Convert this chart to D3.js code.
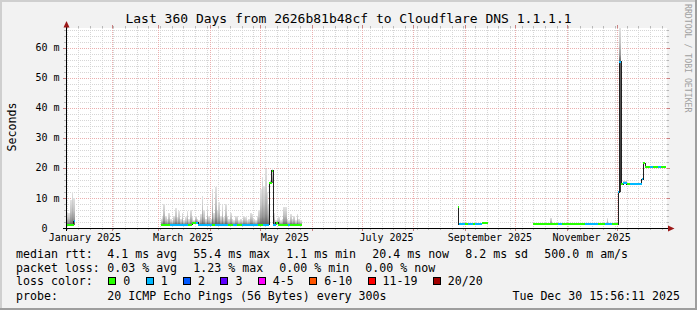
<!DOCTYPE html>
<html><head><meta charset="utf-8">
<script src="https://cdn.jsdelivr.net/npm/d3@7"></script>
<style>
html,body{margin:0;padding:0;background:#f2f2f2;}
svg{display:block;}
text{font-family:"DejaVu Sans Mono",monospace;fill:#000;}
</style></head><body>
<svg id="chart" width="697" height="310"></svg>
<script>
// ---------- texts ----------
const titleText = "Last 360 Days from 2626b81b48cf to Cloudflare DNS 1.1.1.1";
const yAxisTitle = "Seconds";
const watermark = "RRDTOOL / TOBI OETIKER";
const startTime = "2025-01-04T15:56:11Z";
const endTime = "2025-12-30T15:56:11Z";
const yAxisMax = 66.55; // ms, autoscaled top of axis

const yTickValues = [0, 10, 20, 30, 40, 50, 60];
const yTickLabels = ["0  ", "10 m", "20 m", "30 m", "40 m", "50 m", "60 m"];
const xLabelMonths = ["2025-01-01", "2025-03-01", "2025-05-01", "2025-07-01", "2025-09-01", "2025-11-01"];
const xLabelTexts = ["January 2025", "March 2025", "May 2025", "July 2025", "September 2025", "November 2025"];

const lossLabels = ["0", "1", "2", "3", "4-5", "6-10", "11-19", "20/20"];
const lossColors = ["#26ff00", "#00b8ff", "#0059ff", "#5e00ff", "#ff00ff", "#ff5500", "#ff0000", "#a10000"];

const medianLegendTitle = "median rtt:";
const medianLegend = ["4.1 ms avg", "55.4 ms max", "1.1 ms min", "20.4 ms now", "8.2 ms sd", "500.0 m am/s"];
const lossLegendTitle = "packet loss:";
const lossLegend = ["0.03 % avg", "1.23 % max", "0.00 % min", "0.00 % now"];
const colorLegendTitle = "loss color:";
const probeTitle = "probe:";
const probeText = "20 ICMP Echo Pings (56 Bytes) every 300s";
const stampText = "Tue Dec 30 15:56:11 2025";

// ---------- median rtt (ms) steps: each value holds until the next date; null = no data ----------
const medianDates = [
  "2025-01-04T16", "2025-01-09T04", "2025-01-10T01",
  "2025-03-02T16", "2025-03-08T00", "2025-03-19T00", "2025-03-21T10", "2025-03-23T12", "2025-03-25T00",
  "2025-04-02T00", "2025-04-04T00", "2025-04-12T00", "2025-04-15T00", "2025-04-17T00", "2025-04-20T00",
  "2025-04-30T00", "2025-05-03T00", "2025-05-06T14", "2025-05-08T02", "2025-05-09T00", "2025-05-10T12",
  "2025-05-12T00", "2025-05-18T00", "2025-05-19T00", "2025-05-26T02",
  "2025-08-27T16", "2025-08-28T05", "2025-09-01T00", "2025-09-03T00", "2025-09-06T00", "2025-09-07T00",
  "2025-09-11T02", "2025-09-15T00",
  "2025-10-12T00", "2025-10-27T00", "2025-10-29T00", "2025-11-12T00", "2025-11-20T00", "2025-11-24T00",
  "2025-11-28T00", "2025-12-02T00", "2025-12-02T14", "2025-12-03T23", "2025-12-05T00", "2025-12-07T06",
  "2025-12-09T00", "2025-12-16T02", "2025-12-17T00", "2025-12-18T02", "2025-12-21T00", "2025-12-23T00",
  "2025-12-26T00", "2025-12-27T12", "2025-12-30T15"
];
const medianValues = [
  1.1, 2.2, null,
  1.1, 1.1, 1.1, 1.8, 1.8, 1.1,
  1.1, 1.1, 1.1, 1.1, 1.1, 1.1,
  1.1, 1.1, 15.0, 19.0, 1.1, 1.7,
  1.1, 1.1, 1.1, null,
  7.1, 1.3, 1.3, 1.3, 1.3, 1.3,
  1.6, null,
  1.2, 1.2, 1.2, 1.2, 1.2, 1.2,
  1.2, 11.9, 55.3, 14.5, 15.0, 14.5,
  14.5, 16.2, 21.6, 20.4, 20.4, 20.4,
  20.4, 20.4, null
];
const medianLoss = [
  0, 1, 0,
  0, 1, 0, 0, 1, 1,
  0, 1, 0, 1, 0, 1,
  0, 1, 0, 0, 1, 0,
  0, 1, 0, 0,
  0, 1, 0, 1, 0, 1,
  0, 0,
  0, 1, 0, 1, 0, 1,
  0, 1, 1, 0, 1, 0,
  1, 1, 0, 0, 1, 0,
  1, 0, 0
];

// ---------- smoke: highest ping (ms) per bucket, bucket runs until next date ----------
const smokeDates = [
  "2025-01-04T16", "2025-01-05", "2025-01-06", "2025-01-07", "2025-01-08", "2025-01-09", "2025-01-10T01",
  "2025-03-02T16", "2025-03-03", "2025-03-04", "2025-03-05", "2025-03-06", "2025-03-07", "2025-03-08",
  "2025-03-09", "2025-03-10", "2025-03-11", "2025-03-12", "2025-03-13", "2025-03-14", "2025-03-15",
  "2025-03-16", "2025-03-17", "2025-03-18", "2025-03-19", "2025-03-20", "2025-03-21", "2025-03-22",
  "2025-03-23", "2025-03-24", "2025-03-25", "2025-03-26", "2025-03-27", "2025-03-28", "2025-03-29",
  "2025-03-30", "2025-03-31", "2025-04-01", "2025-04-02", "2025-04-03", "2025-04-04", "2025-04-05",
  "2025-04-06", "2025-04-07", "2025-04-08", "2025-04-09", "2025-04-10", "2025-04-11", "2025-04-12",
  "2025-04-13", "2025-04-14", "2025-04-15", "2025-04-16", "2025-04-17", "2025-04-18", "2025-04-19",
  "2025-04-20", "2025-04-21", "2025-04-22", "2025-04-23", "2025-04-24", "2025-04-25", "2025-04-26",
  "2025-04-27", "2025-04-28", "2025-04-29", "2025-04-30", "2025-05-01", "2025-05-02", "2025-05-03",
  "2025-05-04", "2025-05-05", "2025-05-06", "2025-05-07", "2025-05-08", "2025-05-09", "2025-05-10",
  "2025-05-11", "2025-05-12", "2025-05-13", "2025-05-14", "2025-05-15", "2025-05-16", "2025-05-17",
  "2025-05-18", "2025-05-19", "2025-05-20", "2025-05-21", "2025-05-22", "2025-05-23", "2025-05-24",
  "2025-05-25", "2025-05-26T02",
  "2025-10-22", "2025-10-23", "2025-11-25", "2025-11-26",
  "2025-12-02T14", "2025-12-03T23", "2025-12-05", "2025-12-07T06"
];
const smokeHigh = [
  4, 5.4, 5, 9.3, 12, 10, null,
  3, 3.5, 8, 4, 3, 5, 3,
  2.5, 4, 6.5, 3.5, 5.5, 3, 5,
  2.5, 3.5, 5.5, 3, 6, 3.5, 2.5,
  4, 3, 2.5, 4.5, 10.7, 6, 3,
  7, 4, 3, 13, 5, 13.5, 6,
  8.5, 4, 7.5, 3.5, 8, 4, 3,
  5, 3, 2.5, 4, 4, 2.5, 3,
  2.5, 4, 3.5, 2.5, 3, 5, 4.5,
  3, 2.5, 4, 6, 13, 17, 14,
  19.6, 12, 8, 16, 20, 5, 2.5,
  3, 3.5, 2.5, 3, 7, 6.9, 3,
  2.5, 4.5, 3, 4, 2.5, 4.7, 3,
  2.5, null,
  3.4, null, 3.2, null,
  66.5, null, 15.8, null
];
// smoke below the median (lowest pings), only noticeable at the December spike
const lowSmokeStart = ["2025-12-02T14"];
const lowSmokeEnd = ["2025-12-03T23"];
const lowSmokeLow = [11.9];
const lowSmokeHigh = [55.3];

// ---------- drawing ----------
const W = 697, H = 310;
const toDate = s => d3.isoParse(s.endsWith("Z") ? s : (s.length === 10 ? s + "T00:00Z" : s + ":00Z"));
const svg = d3.select("#chart");
const X0 = 66, X1 = 666, YT = 28, YB = 228;
const x = d3.scaleUtc().domain([toDate(startTime), toDate(endTime)]).range([X0, X1]);
const y = d3.scaleLinear().domain([0, yAxisMax]).range([YB, YT]);
const cr = v => Math.round(v) + 0.5;

svg.append("rect").attr("width", W).attr("height", H).attr("fill", "#f2f2f2");
svg.append("rect").attr("x", 0).attr("y", 0).attr("width", W).attr("height", 2).attr("fill", "#cfcfcf");
svg.append("rect").attr("x", 0).attr("y", 0).attr("width", 2).attr("height", H).attr("fill", "#cfcfcf");
svg.append("rect").attr("x", 0).attr("y", H - 2).attr("width", W).attr("height", 2).attr("fill", "#9e9e9e");
svg.append("rect").attr("x", W - 2).attr("y", 0).attr("width", 2).attr("height", H).attr("fill", "#9e9e9e");

// canvas
svg.append("rect").attr("x", X0).attr("y", YT).attr("width", X1 - X0 + 1).attr("height", YB - YT).attr("fill", "#ffffff");

const grid = svg.append("g").attr("shape-rendering", "crispEdges");
const minorCol = "#d6d6d6", majorCol = "#eaaeae";
// horizontal grid
const minorYs = d3.range(2, yAxisMax, 2).filter(v => v % 10 !== 0);
const majorYs = d3.range(10, yAxisMax, 10);
minorYs.forEach(v => {
  const yy = cr(y(v));
  grid.append("line").attr("x1", X0).attr("x2", X1 + 1).attr("y1", yy).attr("y2", yy)
    .attr("stroke", minorCol).attr("stroke-dasharray", "1,1");
  grid.append("line").attr("x1", X0 - 2).attr("x2", X0).attr("y1", yy).attr("y2", yy).attr("stroke", "#b8b8b8");
  grid.append("line").attr("x1", X1 + 1).attr("x2", X1 + 3).attr("y1", yy).attr("y2", yy).attr("stroke", "#b8b8b8");
});
// vertical grid
const tStart = toDate(startTime), tEnd = toDate(endTime);
d3.utcSunday.range(tStart, tEnd).forEach(t => {
  const xx = cr(x(t));
  grid.append("line").attr("x1", xx).attr("x2", xx).attr("y1", YT).attr("y2", YB)
    .attr("stroke", minorCol).attr("stroke-dasharray", "1,1");
  grid.append("line").attr("x1", xx).attr("x2", xx).attr("y1", YB).attr("y2", YB + 2).attr("stroke", "#b8b8b8");
  grid.append("line").attr("x1", xx).attr("x2", xx).attr("y1", YT - 2).attr("y2", YT).attr("stroke", "#b8b8b8");
});
majorYs.forEach(v => {
  const yy = cr(y(v));
  grid.append("line").attr("x1", X0).attr("x2", X1 + 1).attr("y1", yy).attr("y2", yy)
    .attr("stroke", majorCol).attr("stroke-dasharray", "1,1");
  grid.append("line").attr("x1", X0 - 3).attr("x2", X0).attr("y1", yy).attr("y2", yy).attr("stroke", "#c98080");
  grid.append("line").attr("x1", X1 + 1).attr("x2", X1 + 4).attr("y1", yy).attr("y2", yy).attr("stroke", "#c98080");
});
d3.utcMonth.range(tStart, tEnd).forEach(t => {
  const xx = cr(x(t));
  grid.append("line").attr("x1", xx).attr("x2", xx).attr("y1", YT).attr("y2", YB)
    .attr("stroke", majorCol).attr("stroke-dasharray", "1,1");
  grid.append("line").attr("x1", xx).attr("x2", xx).attr("y1", YB).attr("y2", YB + 3).attr("stroke", "#c98080");
  grid.append("line").attr("x1", xx).attr("x2", xx).attr("y1", YT - 3).attr("y2", YT).attr("stroke", "#c98080");
});

// gradients for smoke
const defs = svg.append("defs");
const gHi = defs.append("linearGradient").attr("id", "smokeHi").attr("x1", 0).attr("y1", 0).attr("x2", 0).attr("y2", 1);
gHi.append("stop").attr("offset", "0%").attr("stop-color", "#e2e2e2");
gHi.append("stop").attr("offset", "45%").attr("stop-color", "#c4c4c4");
gHi.append("stop").attr("offset", "80%").attr("stop-color", "#979797");
gHi.append("stop").attr("offset", "100%").attr("stop-color", "#606060");
const gLo = defs.append("linearGradient").attr("id", "smokeLo").attr("x1", 0).attr("y1", 0).attr("x2", 0).attr("y2", 1);
gLo.append("stop").attr("offset", "0%").attr("stop-color", "#606060");
gLo.append("stop").attr("offset", "100%").attr("stop-color", "#333333");

const med = medianDates.map((d, i) => ({ t: toDate(d), v: medianValues[i], loss: medianLoss[i] }));
function medianAt(t) {
  let val = 0;
  for (const p of med) { if (p.t <= t) val = p.v == null ? 0 : p.v; else break; }
  return val;
}

const smokeG = svg.append("g").attr("shape-rendering", "crispEdges");
smokeDates.forEach((d, i) => {
  const hi = smokeHigh[i];
  if (hi == null || i + 1 >= smokeDates.length) return;
  const t0 = toDate(d), t1 = toDate(smokeDates[i + 1]);
  const lo = medianAt(t0);
  if (hi <= lo) return;
  const xa = x(t0), xb = x(t1);
  smokeG.append("rect").attr("x", xa).attr("width", Math.max(1, xb - xa))
    .attr("y", y(hi)).attr("height", y(lo) - y(hi)).attr("fill", "url(#smokeHi)");
});
lowSmokeStart.forEach((d, i) => {
  const xa = x(toDate(d)), xb = x(toDate(lowSmokeEnd[i]));
  smokeG.append("rect").attr("x", xa).attr("width", Math.max(1, xb - xa))
    .attr("y", y(lowSmokeHigh[i])).attr("height", y(lowSmokeLow[i]) - y(lowSmokeHigh[i]))
    .attr("fill", "url(#smokeLo)");
});

// median black line
const linePts = [];
med.forEach((p, i) => {
  if (p.v == null) {
    if (i > 0 && med[i - 1].v != null) linePts.push({ t: p.t, v: med[i - 1].v });
    linePts.push({ t: p.t, v: null });
  } else linePts.push(p);
});
const line = d3.line().defined(d => d.v != null).x(d => x(d.t)).y(d => y(d.v)).curve(d3.curveStepAfter);
svg.append("path").attr("d", line(linePts)).attr("fill", "none").attr("stroke", "#202020")
  .attr("stroke-width", 1).attr("shape-rendering", "crispEdges");

// loss-coloured median bands
const bandG = svg.append("g").attr("shape-rendering", "crispEdges");
med.forEach((p, i) => {
  if (p.v == null || i + 1 >= med.length) return;
  const xa = x(p.t), xb = x(med[i + 1].t);
  bandG.append("rect").attr("x", xa).attr("width", Math.max(1, xb - xa))
    .attr("y", y(p.v) - 1).attr("height", 2).attr("fill", lossColors[p.loss]);
});

// axes
svg.append("line").attr("x1", 66.5).attr("x2", 66.5).attr("y1", YB + 3).attr("y2", 24)
  .attr("stroke", "#000").attr("shape-rendering", "crispEdges");
svg.append("line").attr("x1", 63).attr("x2", 670).attr("y1", YB + 0.5).attr("y2", YB + 0.5)
  .attr("stroke", "#000").attr("shape-rendering", "crispEdges");
svg.append("path").attr("d", "M63.5,27.5 L66.5,21 L69.5,27.5 Z").attr("fill", "#9c1818");
svg.append("path").attr("d", "M668,225.5 L674.5,228.5 L668,231.5 Z").attr("fill", "#9c1818");

// y labels
yTickValues.forEach((v, i) => {
  svg.append("text").attr("x", 59.5).attr("y", y(v) + 3.6).attr("text-anchor", "end")
    .attr("xml:space", "preserve").style("white-space", "pre")
    .attr("font-size", "10px").text(yTickLabels[i]);
});
// x labels (centred mid-month)
xLabelMonths.forEach((m, i) => {
  const t = d3.utcDay.offset(toDate(m), 15);
  svg.append("text").attr("x", x(t)).attr("y", 241).attr("text-anchor", "middle")
    .attr("font-size", "10px").text(xLabelTexts[i]);
});

// title
svg.append("text").attr("x", 348.5).attr("y", 23).attr("text-anchor", "middle")
  .attr("font-size", "13px").text(titleText);
// y axis title
svg.append("text").attr("transform", "translate(15.5,127) rotate(-90)").attr("text-anchor", "middle")
  .attr("font-size", "11.6px").text(yAxisTitle);
// watermark
svg.append("text").attr("transform", "translate(685,4) rotate(90)").attr("text-anchor", "start")
  .attr("font-size", "8.2px").style("fill", "#a0a0a0").text(watermark);

// legend
const LF = "11.6px", GAP = 16.2, COL = 107.3, LX = 16;
const rows = [257.8, 272, 285, 300];
function addText(xp, yp, s, anchor) {
  return svg.append("text").attr("x", xp).attr("y", yp).attr("font-size", LF)
    .attr("text-anchor", anchor || "start").text(s);
}
addText(LX, rows[0], medianLegendTitle);
let cx = COL;
medianLegend.forEach(s => { const t = addText(cx, rows[0], s); cx += t.node().getComputedTextLength() + GAP; });
addText(LX, rows[1], lossLegendTitle);
cx = COL;
lossLegend.forEach(s => { const t = addText(cx, rows[1], s); cx += t.node().getComputedTextLength() + GAP; });
addText(LX, rows[2], colorLegendTitle);
cx = 108.3;
lossLabels.forEach((s, i) => {
  svg.append("rect").attr("x", Math.round(cx) + 0.5).attr("y", 277.5).attr("width", 7).attr("height", 7)
    .attr("fill", lossColors[i]).attr("stroke", "#000").attr("stroke-width", 1);
  const t = addText(cx + 15, rows[2], s);
  cx += 15 + t.node().getComputedTextLength() + 15.4;
});
addText(LX, rows[3], probeTitle);
addText(COL, rows[3], probeText);
addText(680, rows[3], stampText, "end");
</script>
</body></html>
